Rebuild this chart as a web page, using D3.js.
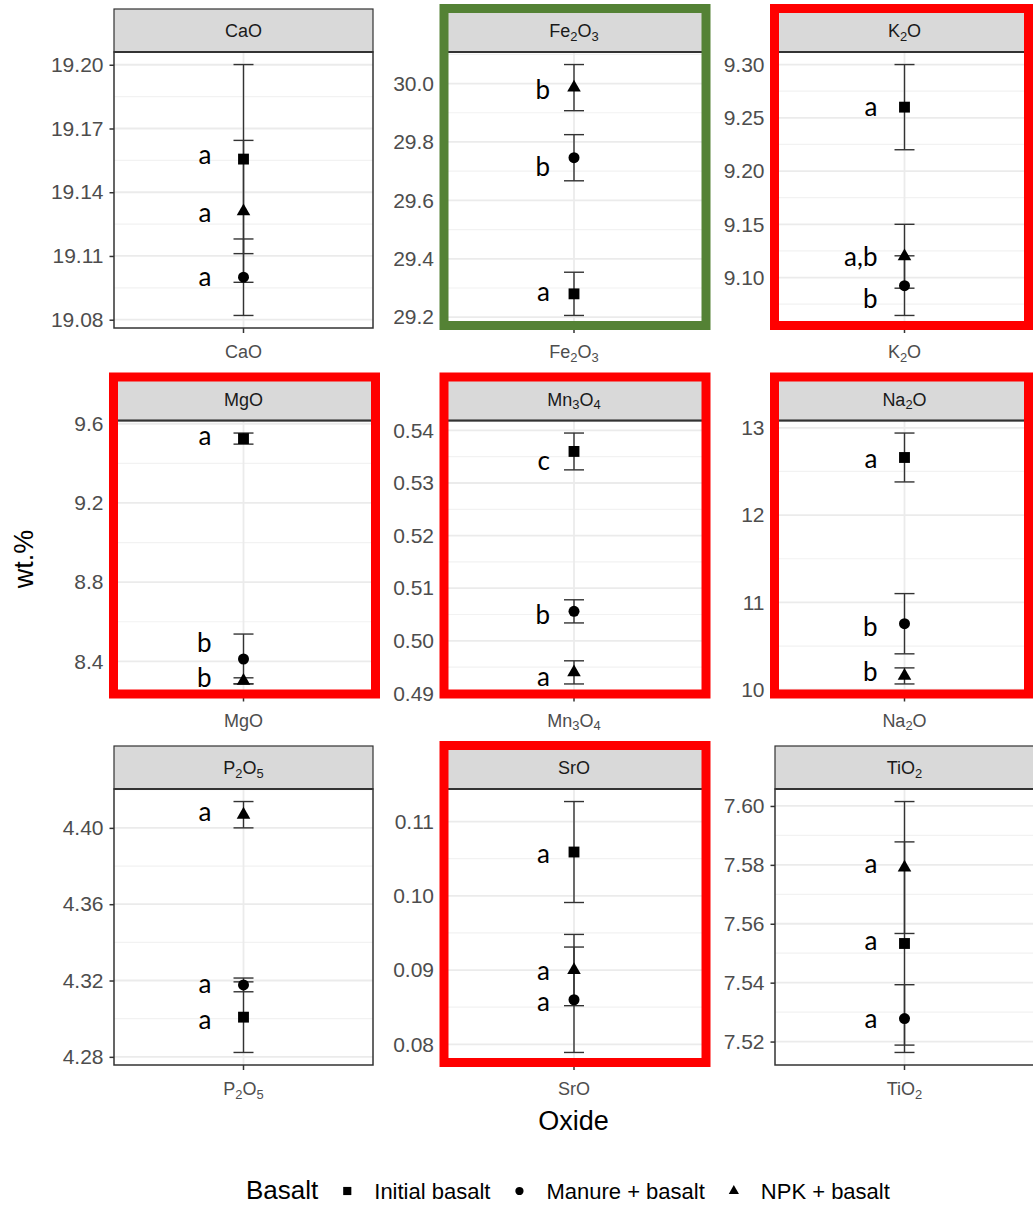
<!DOCTYPE html>
<html>
<head>
<meta charset="utf-8">
<script src="https://cdn.jsdelivr.net/npm/d3@7"></script>
<style>
  html, body { margin: 0; padding: 0; background: #ffffff; }
  svg { display: block; }
</style>
</head>
<body>
<div id="chart"></div>
<script>
// ---------------- DATA ----------------
const oxides = ["CaO", "Fe2O3", "K2O", "MgO", "Mn3O4", "Na2O", "P2O5", "SrO", "TiO2"];
const treatments = ["Initial basalt", "Manure + basalt", "NPK + basalt"];

const initialMean = [19.1556, 29.280, 9.260, 9.525, 0.5360, 12.66, 4.3008, 0.1059, 7.5533];
const initialSd   = [0.0445, 0.074, 0.040, 0.028, 0.0035, 0.28, 0.0185, 0.0068, 0.0345];
const manureMean  = [19.100, 29.746, 9.0924, 8.412, 0.5056, 10.756, 4.3177, 0.0860, 7.5278];
const manureSd    = [0.018, 0.079, 0.028, 0.126, 0.0022, 0.345, 0.0036, 0.0071, 0.0115];
const npkMean     = [19.131, 29.986, 9.120, 8.302, 0.4940, 10.158, 4.4069, 0.0900, 7.5791];
const npkSd       = [0.0334, 0.079, 0.030, 0.015, 0.0022, 0.092, 0.0069, 0.0048, 0.0224];

// significance letters
const initialLetter = ["a", "a", "a", "a", "c", "a", "a", "a", "a"];
const manureLetter  = ["a", "b", "b", "b", "b", "b", "a", "a", "a"];
const npkLetter     = ["a", "b", "a,b", "b", "a", "b", "a", "a", "a"];
// value (wt.%) at which each letter's baseline sits
const initialLetterAt = [19.1533, 29.254, 9.252, 9.493, 0.5325, 12.543, 4.2947, 0.10448, 7.5510];
const manureLetterAt  = [19.0957, 29.684, 9.0718, 8.448, 0.5032, 10.613, 4.3132, 0.08453, 7.5246];
const npkLetterAt     = [19.126, 29.948, 9.111, 8.273, 0.4915, 10.096, 4.4037, 0.08861, 7.5772];

// y tick labels per panel
const tickLabels = [
  ["19.08", "19.11", "19.14", "19.17", "19.20"],
  ["29.2", "29.4", "29.6", "29.8", "30.0"],
  ["9.10", "9.15", "9.20", "9.25", "9.30"],
  ["8.4", "8.8", "9.2", "9.6"],
  ["0.49", "0.50", "0.51", "0.52", "0.53", "0.54"],
  ["10", "11", "12", "13"],
  ["4.28", "4.32", "4.36", "4.40"],
  ["0.08", "0.09", "0.10", "0.11"],
  ["7.52", "7.54", "7.56", "7.58", "7.60"]
];

// highlighted panels
const redPanels = ["K2O", "MgO", "Mn3O4", "Na2O", "SrO"];
const greenPanels = ["Fe2O3"];

const xTitle = "Oxide";
const yTitle = "wt.%";
const legendTitle = "Basalt";

// ---------------- LAYOUT ----------------
const W = 1033, H = 1207;
const panelW = 259, stripH = 43, panelH = 276;
const colX = c => 114 + c * 330.5;
const rowY = r => 9 + r * 368.5;   // strip top
const letterDx = [-32, -24, -27];

const svg = d3.select("#chart").append("svg")
  .attr("width", W).attr("height", H)
  .attr("viewBox", `0 0 ${W} ${H}`);

const AX_FONT = "'Liberation Sans', Arial, sans-serif";
const LET_FONT = "Lato, 'Open Sans', sans-serif";

// render chemical formula with subscript digits
function formula(sel, name, size) {
  const parts = name.match(/[A-Za-z]+|\d+/g);
  let sub = false;
  parts.forEach(p => {
    const isNum = /^\d+$/.test(p);
    const t = sel.append("tspan").text(p);
    if (isNum) {
      t.attr("font-size", size * 0.72).attr("dy", sub ? 0 : size * 0.22);
      sub = true;
    } else {
      t.attr("font-size", size).attr("dy", sub ? -size * 0.22 : 0);
      sub = false;
    }
  });
}

function symbolPath(kind, scale) {
  const s = scale || 1;
  if (kind === 0) return d3.symbol(d3.symbolSquare, 118 * s * s)();
  if (kind === 1) return d3.symbol(d3.symbolCircle, 95 * s * s)();
  return d3.symbol(d3.symbolTriangle, 80 * s * s)();
}

const series = [
  { mean: initialMean, sd: initialSd, letter: initialLetter, at: initialLetterAt },
  { mean: manureMean, sd: manureSd, letter: manureLetter, at: manureLetterAt },
  { mean: npkMean, sd: npkSd, letter: npkLetter, at: npkLetterAt }
];

oxides.forEach((ox, i) => {
  const c = i % 3, r = Math.floor(i / 3);
  const x0 = colX(c), sTop = rowY(r), pTop = sTop + stripH, pBot = pTop + panelH;
  const g = svg.append("g");

  const lo = d3.min(series, s => s.mean[i] - s.sd[i]);
  const hi = d3.max(series, s => s.mean[i] + s.sd[i]);
  const pad = (hi - lo) * 0.05;
  const y = d3.scaleLinear().domain([lo - pad, hi + pad]).range([pBot, pTop]);
  const x = d3.scaleBand().domain([ox]).range([x0, x0 + panelW]);
  const cx = x(ox) + x.bandwidth() / 2;

  const ticks = tickLabels[i].map(Number);
  const step = ticks[1] - ticks[0];
  const minors = [];
  for (let k = -1; k < ticks.length; k++) {
    const v = ticks[0] + (k + 0.5) * step;
    if (v > y.domain()[0] && v < y.domain()[1]) minors.push(v);
  }

  // panel background
  g.append("rect").attr("x", x0).attr("y", pTop).attr("width", panelW).attr("height", panelH)
    .attr("fill", "#ffffff");
  // minor grid
  g.selectAll(".mn").data(minors).join("line")
    .attr("x1", x0).attr("x2", x0 + panelW)
    .attr("y1", d => y(d)).attr("y2", d => y(d))
    .attr("stroke", "#f2f2f2").attr("stroke-width", 1.2);
  // major grid
  g.selectAll(".mj").data(ticks).join("line")
    .attr("x1", x0).attr("x2", x0 + panelW)
    .attr("y1", d => y(d)).attr("y2", d => y(d))
    .attr("stroke", "#ebebeb").attr("stroke-width", 1.8);
  g.append("line").attr("x1", cx).attr("x2", cx).attr("y1", pTop).attr("y2", pBot)
    .attr("stroke", "#ebebeb").attr("stroke-width", 1.8);

  // error bars
  series.forEach((s, k) => {
    const m = s.mean[i], sd = s.sd[i];
    const eg = g.append("g").attr("stroke", "#333333").attr("stroke-width", 1.4).attr("fill", "none");
    eg.append("line").attr("x1", cx).attr("x2", cx).attr("y1", y(m - sd)).attr("y2", y(m + sd));
    eg.append("line").attr("x1", cx - 10).attr("x2", cx + 10).attr("y1", y(m - sd)).attr("y2", y(m - sd));
    eg.append("line").attr("x1", cx - 10).attr("x2", cx + 10).attr("y1", y(m + sd)).attr("y2", y(m + sd));
  });
  // points
  series.forEach((s, k) => {
    g.append("path").attr("d", symbolPath(k))
      .attr("transform", `translate(${cx},${y(s.mean[i])})`)
      .attr("fill", "#000000");
  });
  // letters
  series.forEach((s, k) => {
    g.append("text").attr("x", cx + letterDx[c]).attr("y", y(s.at[i]))
      .attr("text-anchor", "end")
      .attr("font-family", LET_FONT).attr("font-size", 26).attr("fill", "#000000")
      .text(s.letter[i]);
  });

  // panel border
  g.append("rect").attr("x", x0).attr("y", pTop).attr("width", panelW).attr("height", panelH)
    .attr("fill", "none").attr("stroke", "#333333").attr("stroke-width", 1.5);
  // strip
  g.append("rect").attr("x", x0).attr("y", sTop).attr("width", panelW).attr("height", stripH)
    .attr("fill", "#d9d9d9").attr("stroke", "#333333").attr("stroke-width", 1.2);
  g.append("line").attr("x1", x0).attr("x2", x0 + panelW).attr("y1", pTop).attr("y2", pTop)
    .attr("stroke", "#333333").attr("stroke-width", 2);
  const st = g.append("text").attr("x", cx).attr("y", sTop + stripH / 2 + 6.5)
    .attr("text-anchor", "middle").attr("font-family", AX_FONT).attr("fill", "#1a1a1a");
  formula(st, ox, 18);

  // y axis
  const yAxis = d3.axisLeft(y).tickValues(ticks).tickFormat((d, j) => tickLabels[i][j])
    .tickSize(4.5).tickPadding(6);
  const ya = g.append("g").attr("transform", `translate(${x0},0)`).call(yAxis);
  ya.select(".domain").remove();
  ya.selectAll(".tick line").attr("stroke", "#333333").attr("stroke-width", 1.5);
  ya.selectAll(".tick text").attr("font-family", AX_FONT).attr("font-size", 21)
    .attr("fill", "#4d4d4d");

  // x axis
  const xAxis = d3.axisBottom(x).tickSize(5).tickFormat(() => "");
  const xa = g.append("g").attr("transform", `translate(0,${pBot})`).call(xAxis);
  xa.select(".domain").remove();
  xa.selectAll(".tick line").attr("stroke", "#333333").attr("stroke-width", 1.5);
  const xt = g.append("text").attr("x", cx).attr("y", pBot + 30)
    .attr("text-anchor", "middle").attr("font-family", AX_FONT).attr("fill", "#4d4d4d");
  formula(xt, ox, 18);

  // highlight boxes
  const hl = redPanels.includes(ox) ? "#ff0000" : (greenPanels.includes(ox) ? "#548235" : null);
  if (hl) {
    const sw = 9;
    const left = x0 - 5, right = Math.min(x0 + panelW + 7, W), top = sTop - 5, bot = pBot + 2;
    svg.append("rect")
      .attr("x", left + sw / 2).attr("y", top + sw / 2)
      .attr("width", right - left - sw).attr("height", bot - top - sw)
      .attr("fill", "none").attr("stroke", hl).attr("stroke-width", sw);
  }
});

// axis titles
svg.append("text").attr("x", 573.5).attr("y", 1130).attr("text-anchor", "middle")
  .attr("font-family", AX_FONT).attr("font-size", 27).attr("fill", "#000000").text(xTitle);
svg.append("text").attr("transform", "translate(33,559) rotate(-90)").attr("text-anchor", "middle")
  .attr("font-family", AX_FONT).attr("font-size", 27).attr("fill", "#000000").text(yTitle);

// legend
const lg = svg.append("g");
const lt = lg.append("text").attr("x", 246).attr("y", 1199)
  .attr("font-family", AX_FONT).attr("font-size", 26).attr("fill", "#000000").text(legendTitle);
let lx = 246 + lt.node().getComputedTextLength();
treatments.forEach((t, k) => {
  const mx = lx + 29;
  lg.append("path").attr("d", symbolPath(k, 0.75))
    .attr("transform", `translate(${mx},${1191})`).attr("fill", "#000000");
  const tx = lg.append("text").attr("x", mx + 27).attr("y", 1199)
    .attr("font-family", AX_FONT).attr("font-size", 22).attr("fill", "#000000").text(t);
  lx = mx + 27 + tx.node().getComputedTextLength();
});
</script>
</body>
</html>
